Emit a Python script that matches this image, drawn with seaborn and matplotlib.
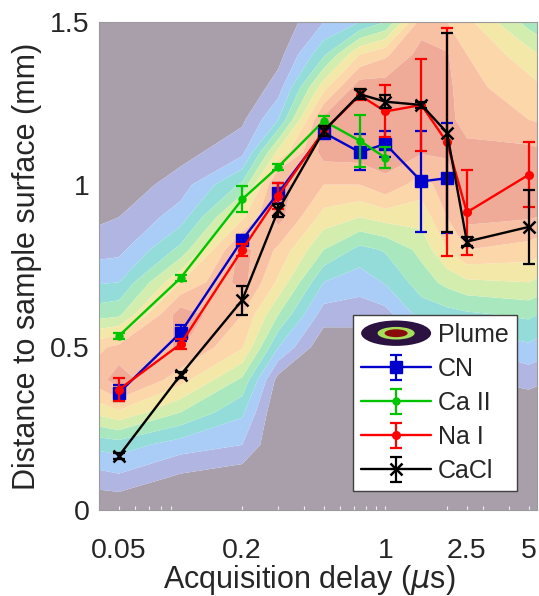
import numpy as np
import pandas as pd
import matplotlib
matplotlib.use("Agg")
import matplotlib.pyplot as plt
import seaborn as sns
from matplotlib.container import ErrorbarContainer
from matplotlib.legend_handler import HandlerBase
from matplotlib.patches import Ellipse, Patch
from matplotlib.ticker import FixedLocator, LogLocator, NullFormatter

# ---------------------------------------------------------------- data
# CN
cn_delay = [0.05, 0.1, 0.2, 0.3, 0.5, 0.75, 1.0, 1.5, 2.0]
cn_dist = [0.36, 0.545, 0.83, 0.975, 1.16, 1.10, 1.125, 1.01, 1.02]
cn_err = [0.025, 0.025, 0.015, 0.03, 0.015, 0.055, 0.04, 0.155, 0.17]

# Ca II
caii_delay = [0.05, 0.1, 0.2, 0.3, 0.5, 0.75, 1.0]
caii_dist = [0.535, 0.713, 0.955, 1.055, 1.196, 1.135, 1.083]
caii_err = [0.01, 0.01, 0.04, 0.01, 0.015, 0.08, 0.033]

# Na I
nai_delay = [0.05, 0.1, 0.2, 0.3, 0.5, 0.75, 1.0, 1.5, 2.0, 2.5, 5.0]
nai_dist = [0.37, 0.51, 0.80, 0.965, 1.165, 1.275, 1.225, 1.245, 1.13, 0.915, 1.03]
nai_err = [0.035, 0.015, 0.018, 0.04, 0.015, 0.015, 0.08, 0.14, 0.35, 0.13, 0.10]

# CaCl
cacl_delay = [0.05, 0.1, 0.2, 0.3, 0.5, 0.75, 1.0, 1.5, 2.0, 2.5, 5.0]
cacl_dist = [0.166, 0.415, 0.645, 0.922, 1.165, 1.278, 1.255, 1.245, 1.16, 0.825, 0.87]
cacl_err = [0.01, 0.01, 0.045, 0.02, 0.015, 0.015, 0.02, 0.01, 0.305, 0.015, 0.115]

# Plume emission map (relative intensity, 0-10) on a delay x height grid
plume_delay = [0.04, 0.05, 0.1, 0.2, 0.3, 0.5, 0.75, 1.0, 1.5, 2.0, 2.5, 5.0, 5.5]
plume_height = [0.0, 0.1, 0.2, 0.3, 0.4, 0.5, 0.6, 0.7, 0.8, 0.9, 1.0,
                1.1, 1.2, 1.3, 1.4, 1.5]
plume_at_004 = [0, 1.6, 3.3, 6.3, 8.6, 7.8, 4.6, 2.9, 1.6, 0.8, 0.2, 0, 0, 0, 0, 0]
plume_at_005 = [0, 1.8, 3.5, 6.8, 9.6, 8.3, 4.8, 3.0, 1.7, 1.0, 0.3, 0, 0, 0, 0, 0]
plume_at_01 = [0, 0.8, 2.5, 5.0, 7.4, 9.1, 9.6, 7.0, 4.3, 2.5, 1.5, 0.6, 0, 0, 0, 0]
plume_at_02 = [0, 0.3, 2.0, 3.2, 4.8, 7.1, 8.0, 9.4, 9.4, 6.8, 4.2, 1.7, 0.8, 0, 0, 0]
plume_at_03 = [0, 0, 0, 0, 0.6, 3.0, 5.0, 6.8, 7.8, 9.4, 9.4, 6.3, 3.0, 1.5, 0.6, 0.2]
plume_at_05 = [0, 0, 0, 0, 0, 0.2, 1.5, 3.0, 5.0, 6.6, 8.0, 9.4, 9.3, 6.6, 3.8, 2.0]
plume_at_075 = [0, 0, 0, 0, 0, 0.2, 1.5, 2.4, 3.7, 6.0, 8.0, 9.5, 9.8, 9.6, 7.0, 3.0]
plume_at_1 = [0, 0, 0, 0, 0, 0.2, 1.6, 3.1, 4.1, 6.4, 8.7, 9.6, 9.7, 9.5, 7.8, 4.0]
plume_at_15 = [0, 0, 0, 0, 0.5, 1.8, 3.4, 4.5, 5.3, 6.4, 7.5, 9.1, 9.6, 9.6, 9.4, 8.5]
plume_at_2 = [0, 0, 0, 0.2, 1.0, 2.0, 3.6, 5.3, 7.0, 8.0, 8.6, 9.1, 9.3, 9.3, 9.1, 8.0]
plume_at_25 = [0, 0, 0, 0, 0.9, 2.0, 3.8, 5.8, 8.0, 9.3, 9.4, 9.3, 8.6, 8.3, 8.0, 7.3]
plume_at_5 = [0, 0, 0, 0.3, 1.3, 2.8, 4.2, 6.0, 7.6, 9.1, 9.5, 9.3, 8.0, 7.4, 6.4, 4.6]
plume_at_55 = [0, 0, 0, 0.2, 1.2, 2.6, 4.0, 5.8, 7.4, 9.0, 9.4, 9.2, 7.9, 7.2, 6.1, 4.3]

plume_levels = [-1, 1, 2, 3, 4, 5, 6, 7, 8, 9, 11]
plume_colors = ["#A89FAA", "#B1B5E2", "#AACDF7", "#93DCDA", "#A9E8BF",
                "#D3EDAF", "#F3E8A8", "#FBD7A9", "#F8C1A3", "#EFAA98"]

x_ticks = [0.05, 0.2, 1, 2.5, 5]
x_ticklabels = ["0.05", "0.2", "1", "2.5", "5"]
y_ticks = [0, 0.5, 1, 1.5]
y_ticklabels = ["0", "0.5", "1", "1.5"]
x_range = (0.04, 5.5)
y_range = (0, 1.5)

# ---------------------------------------------------------------- style
sns.set_theme(style="white")
plt.rcParams["font.family"] = ["Liberation Sans", "DejaVu Sans"]
text_color = "#262626"

fig = plt.figure(figsize=(5.39, 5.96), dpi=100)
rect = [0.1837, 0.1443, 0.8126, 0.8188]

# plume background, interpolated along log10(delay)
ax_bg = fig.add_axes(rect)
Z = np.column_stack([plume_at_004, plume_at_005, plume_at_01, plume_at_02,
                     plume_at_03, plume_at_05, plume_at_075, plume_at_1,
                     plume_at_15, plume_at_2, plume_at_25, plume_at_5,
                     plume_at_55])
ax_bg.contourf(np.log10(plume_delay), plume_height, Z, levels=plume_levels,
               colors=plume_colors, antialiased=True)
ax_bg.set_xlim(np.log10(x_range[0]), np.log10(x_range[1]))
ax_bg.set_ylim(*y_range)
ax_bg.axis("off")

ax = fig.add_axes(rect)
ax.patch.set_visible(False)
ax.set_xscale("log")

series = [
    ("CN", cn_delay, cn_dist, cn_err, "#0000CC", "s", 8.5),
    ("Ca II", caii_delay, caii_dist, caii_err, "#00C400", "o", 5.0),
    ("Na I", nai_delay, nai_dist, nai_err, "#FF0000", "o", 5.5),
    ("CaCl", cacl_delay, cacl_dist, cacl_err, "#000000", "x", 8.0),
]

handles = []
for i, (name, x, y, e, color, marker, ms) in enumerate(series):
    z = 3 + i
    df = pd.DataFrame({"delay": x, "distance": y})
    sns.lineplot(data=df, x="delay", y="distance", ax=ax, color=color,
                 marker=marker, markersize=ms, markeredgecolor=color,
                 markeredgewidth=1.8 if marker == "x" else 1.0,
                 linewidth=1.7, estimator=None, sort=False, legend=False,
                 zorder=z)
    line = ax.lines[-1]
    eb = ax.errorbar(x, y, yerr=e, fmt="none", ecolor=color, elinewidth=1.6,
                     capsize=4.6, capthick=1.6, zorder=z)
    handles.append(ErrorbarContainer((line, eb[1], eb[2]), has_xerr=False,
                                     has_yerr=True, label=name))


class PlumeHandler(HandlerBase):
    def create_artists(self, legend, orig_handle, xdescent, ydescent,
                       width, height, fontsize, trans):
        cx = width / 2 - xdescent
        cy = height / 2 - ydescent
        rings = [(1.0, 1.45, "#2B1240"), (0.53, 0.72, "#A6DE5C"),
                 (0.33, 0.45, "#8A0B0B")]
        arts = []
        for fw, fh, c in rings:
            arts.append(Ellipse((cx, cy), width * fw, height * fh,
                                facecolor=c, edgecolor="none",
                                transform=trans))
        return arts


plume_handle = Patch(label="Plume")
leg = ax.legend(handles=[plume_handle] + handles,
                labels=["Plume", "CN", "Ca II", "Na I", "CaCl"],
                handler_map={Patch: PlumeHandler()},
                loc="lower right", bbox_to_anchor=(0.954, 0.039),
                fontsize=18, frameon=True, fancybox=False, framealpha=1,
                edgecolor="#404040", handlelength=2.8, handletextpad=0.28,
                borderpad=0.32, labelspacing=0.40, borderaxespad=0)
leg.get_frame().set_linewidth(1.0)
for t in leg.get_texts():
    t.set_color(text_color)

# axes
ax.set_xlim(*x_range)
ax.set_ylim(*y_range)
ax.xaxis.set_major_locator(FixedLocator(x_ticks))
ax.xaxis.set_minor_locator(LogLocator(base=10, subs=np.arange(2, 10)))
ax.xaxis.set_minor_formatter(NullFormatter())
ax.set_xticklabels(x_ticklabels)
ax.set_yticks(y_ticks)
ax.set_yticklabels(y_ticklabels)
ax.tick_params(axis="x", which="both", direction="in", length=3,
               width=0.8, color="#EEEEEE", labelsize=20.5, pad=20,
               labelcolor=text_color, bottom=True, top=False)
ax.tick_params(axis="y", which="both", length=0, labelsize=20.5, pad=7,
               labelcolor=text_color)
for s in ax.spines.values():
    s.set_color("#9A9A9A")
    s.set_linewidth(0.8)

ax.set_xlabel(r"Acquisition delay ($\mu$s)", fontsize=22, color=text_color)
ax.set_ylabel("Distance to sample surface (mm)", fontsize=22,
              color=text_color)
ax.xaxis.set_label_coords(0.48, -0.108)
ax.yaxis.set_label_coords(-0.13, 0.5)

fig.savefig("out.png", dpi=100)
